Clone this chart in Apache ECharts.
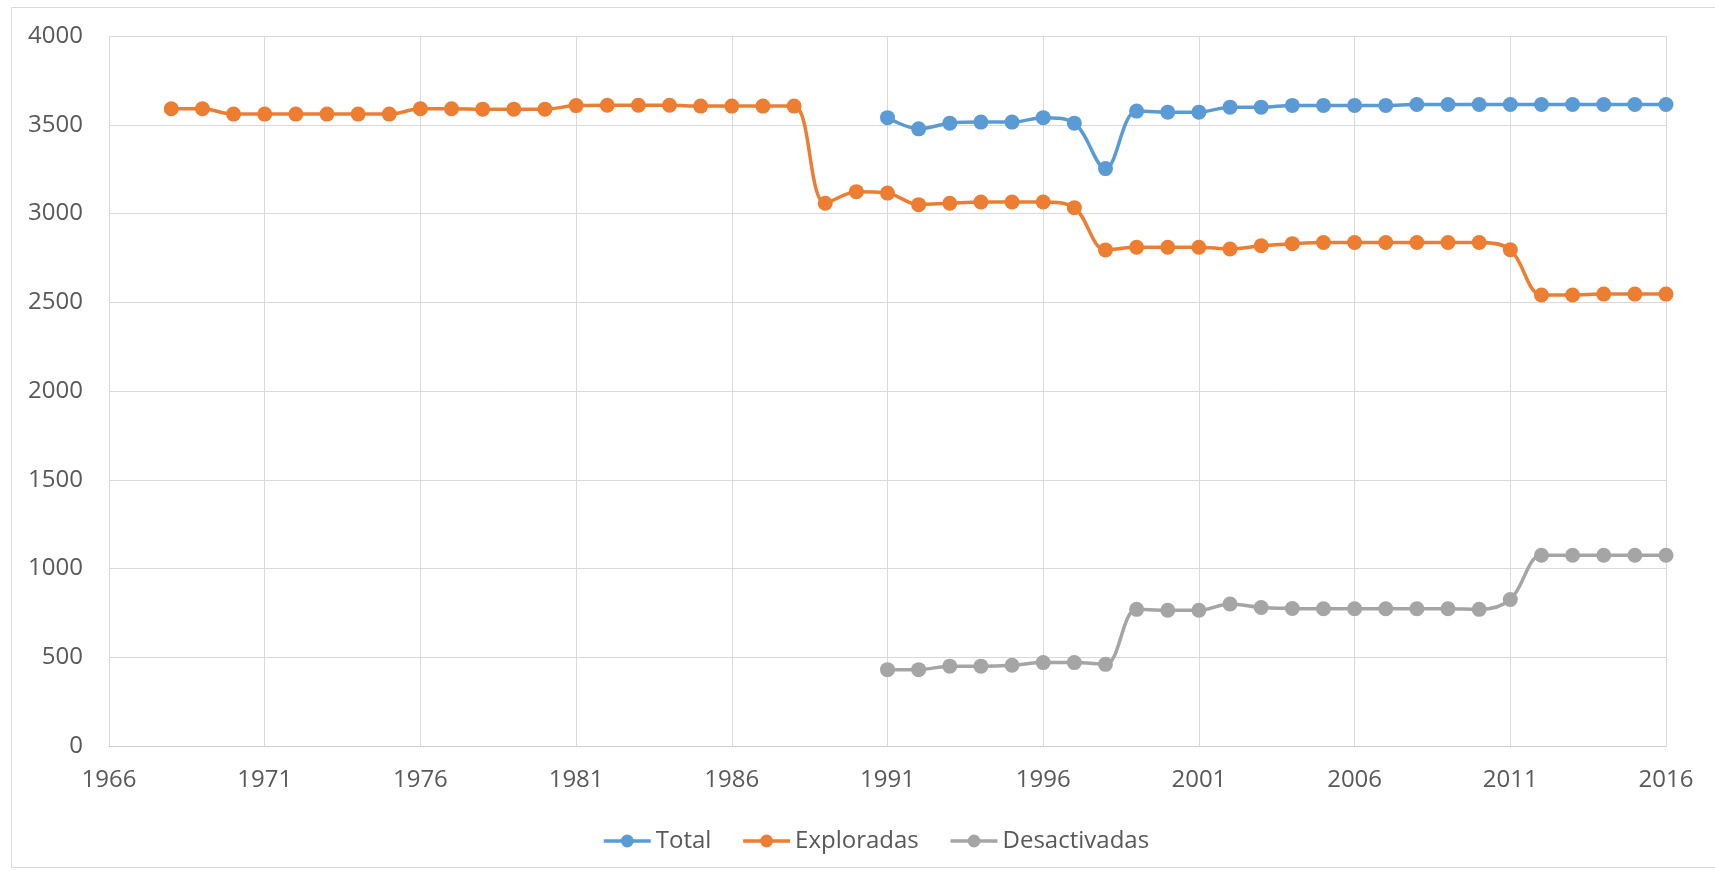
<!DOCTYPE html>
<html>
<head>
<meta charset="utf-8">
<script src="https://cdn.jsdelivr.net/npm/echarts@6/dist/echarts.min.js"></script>
<style>
html,body{margin:0;padding:0;background:#fff;}
#chart{width:1715px;height:871px;}
</style>
</head>
<body>
<div id="chart"></div>
<script>
// ---- data ----
const seriesNames = ['Total', 'Exploradas', 'Desactivadas'];
const exploradasStart = 1968;
const exploradas = [3590,3590,3560,3560,3560,3560,3560,3560,3590,3590,3588,3588,3588,
  3608,3610,3610,3610,3605,3605,3605,3605,
  3058,3123,3115,3050,3058,3065,3065,3065,3033,
  2795,2810,2810,2810,2800,2818,2830,2837,2837,2837,2837,2837,2837,2796,
  2541,2541,2546,2546,2546];
const totalStart = 1991;
const total = [3540,3477,3509,3515,3515,3540,3509,3253,
  3577,3571,3571,3599,3599,3609,3609,3609,3609,3614,3614,3614,3614,3614,3614,3614,3614,3614];
const desactivadasStart = 1991;
const desactivadas = [430,430,450,450,455,470,470,460,
  770,765,765,800,780,775,773,773,773,773,773,770,825,
  1075,1075,1075,1075,1075];
const xMin = 1966, xMax = 2016, xStep = 5;
const yMin = 0, yMax = 4000, yStep = 500;

function pairs(start, vals){ return vals.map((v,i)=>[start+i, v]); }

const colors = ['#5B9BD5', '#ED7D31', '#A5A5A5'];
const font = '"Open Sans", "Liberation Sans", sans-serif';
const txt = '#595959';
const grid = '#D9D9D9';

const chart = echarts.init(document.getElementById('chart'), null, {renderer:'canvas'});
function mk(name, data, color){
  return {
    name, type:'line', data, smooth:0.35, clip:true,
    symbol:'circle', symbolSize:15, showSymbol:true,
    lineStyle:{width:3.5, color}, itemStyle:{color},
    emphasis:{disabled:true}
  };
}
chart.setOption({
  animation:false,
  backgroundColor:'#fff',
  color: colors,
  graphic:[{type:'rect', shape:{x:11.5, y:7.5, width:1710, height:860}, style:{fill:'none', stroke:'#D9D9D9', lineWidth:1}, silent:true, z:-1}],
  grid:{left:109, right:49, top:36, bottom:125, containLabel:false},
  legend:{
    data: seriesNames, left:597, top:824, itemWidth:47, itemHeight:16, itemGap:30,
    lineStyle:{width:3.5},
    textStyle:{fontFamily:font, fontSize:24, color:txt}
  },
  xAxis:{
    type:'value', min:xMin, max:xMax, interval:xStep,
    axisLine:{show:true, lineStyle:{color:'#D0D0D0', width:1}},
    axisTick:{show:false},
    axisLabel:{fontFamily:font, fontSize:24, color:txt, margin:22, formatter: v=>String(v)},
    splitLine:{show:true, lineStyle:{color:grid, width:1}}
  },
  yAxis:{
    type:'value', min:yMin, max:yMax, interval:yStep,
    axisLine:{show:false}, axisTick:{show:false},
    axisLabel:{fontFamily:font, fontSize:24, color:txt, margin:26, formatter: v=>String(v)},
    splitLine:{show:true, lineStyle:{color:grid, width:1}}
  },
  series:[
    mk(seriesNames[0], pairs(totalStart, total), colors[0]),
    mk(seriesNames[1], pairs(exploradasStart, exploradas), colors[1]),
    mk(seriesNames[2], pairs(desactivadasStart, desactivadas), colors[2])
  ]
});
</script>
</body>
</html>
